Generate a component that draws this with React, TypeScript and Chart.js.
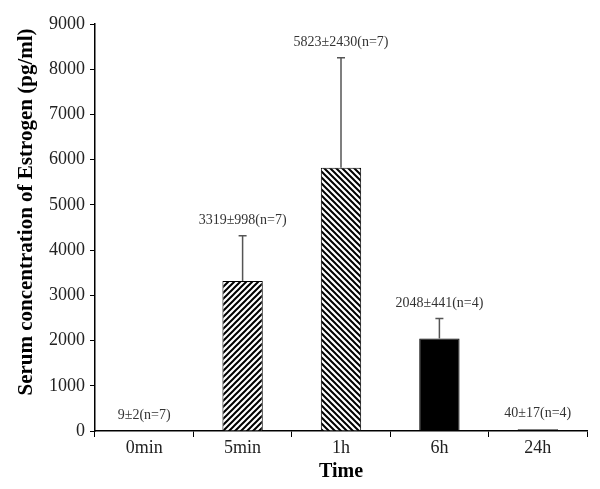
import React, { useEffect, useRef } from "react";
import { Chart, registerables } from "chart.js";
Chart.register(...registerables);

const categories = ["0min", "5min", "1h", "6h", "24h"];
const means = [9, 3319, 5823, 2048, 40];
const sds = [2, 998, 2430, 441, 17];
const ns = [7, 7, 7, 4, 4];
const fillKinds = ["solid", "slash", "backslash", "solid", "solid"];
const yMin = 0;
const yMax = 9000;
const yStep = 1000;
const yTitle = "Serum concentration of Estrogen (pg/ml)";
const xTitle = "Time";

const FONT = '"Liberation Serif", "Times New Roman", serif';

function makeHatch(dir: string): CanvasPattern | string {
  const s = 6;
  const c = document.createElement("canvas");
  c.width = s;
  c.height = s;
  const ctx = c.getContext("2d");
  if (!ctx) return "#fff";
  ctx.fillStyle = "#fff";
  ctx.fillRect(0, 0, s, s);
  ctx.strokeStyle = "#000";
  ctx.lineWidth = 2;
  ctx.beginPath();
  if (dir === "slash") {
    ctx.moveTo(-1, s + 1); ctx.lineTo(s + 1, -1);
    ctx.moveTo(-1, 1); ctx.lineTo(1, -1);
    ctx.moveTo(s - 1, s + 1); ctx.lineTo(s + 1, s - 1);
  } else {
    ctx.moveTo(-1, -1); ctx.lineTo(s + 1, s + 1);
    ctx.moveTo(s - 1, -1); ctx.lineTo(s + 1, 1);
    ctx.moveTo(-1, s - 1); ctx.lineTo(1, s + 1);
  }
  ctx.stroke();
  const p = ctx.createPattern(c, "repeat");
  return p || "#fff";
}

const errorBarPlugin = {
  id: "errorBars",
  afterDatasetsDraw(chart: any) {
    const ctx = chart.ctx;
    const meta = chart.getDatasetMeta(0);
    const y = chart.scales.y;
    ctx.save();
    meta.data.forEach((bar: any, i: number) => {
      const top = y.getPixelForValue(means[i]);
      const hi = y.getPixelForValue(means[i] + sds[i]);
      if (top - hi > 3) {
        ctx.strokeStyle = "#555";
        ctx.lineWidth = 1.5;
        ctx.beginPath();
        ctx.moveTo(bar.x, top);
        ctx.lineTo(bar.x, hi);
        ctx.moveTo(bar.x - 4, hi);
        ctx.lineTo(bar.x + 4, hi);
        ctx.stroke();
      }
      ctx.fillStyle = "#333";
      ctx.font = `14px ${FONT}`;
      ctx.textAlign = "center";
      ctx.textBaseline = "middle";
      ctx.fillText(`${means[i]}±${sds[i]}(n=${ns[i]})`, bar.x, hi - 15);
    });
    // rotated y-axis title
    ctx.fillStyle = "#000";
    ctx.font = `bold 21px ${FONT}`;
    ctx.translate(27, 212);
    ctx.rotate(-Math.PI / 2);
    ctx.textAlign = "center";
    ctx.textBaseline = "middle";
    ctx.fillText(yTitle, 0, 0);
    ctx.restore();
  },
};

export default function App() {
  const ref = useRef<HTMLCanvasElement>(null);
  useEffect(() => {
    if (!ref.current) return;
    const bg = fillKinds.map((k) => (k === "solid" ? "#000" : makeHatch(k)));
    const chart = new Chart(ref.current, {
      type: "bar",
      data: {
        labels: categories,
        datasets: [
          {
            data: means,
            backgroundColor: bg as any,
            borderColor: "#000",
            borderWidth: 1,
            barPercentage: 0.41,
            categoryPercentage: 1,
          },
        ],
      },
      options: {
        animation: false,
        responsive: true,
        maintainAspectRatio: false,
        layout: { padding: { top: 24, right: 13, left: 0, bottom: 0 } },
        plugins: { legend: { display: false }, tooltip: { enabled: false } },
        scales: {
          x: {
            grid: {
              display: true,
              drawOnChartArea: false,
              drawTicks: true,
              tickLength: 6,
              color: "#000",
              offset: true,
            },
            border: { display: true, color: "#000", width: 1.5 },
            ticks: { font: { family: FONT, size: 18 }, color: "#222", padding: 0 },
            title: {
              display: true,
              text: xTitle,
              font: { family: FONT, size: 20, weight: "bold" },
              color: "#000",
              padding: { top: 0, bottom: 5 },
            },
            afterFit: (s: any) => {
              s.height = 58;
            },
          },
          y: {
            min: yMin,
            max: yMax,
            ticks: {
              stepSize: yStep,
              font: { family: FONT, size: 18 },
              color: "#222",
              padding: 5,
              callback: (v: any) => String(v),
            },
            grid: {
              display: true,
              drawOnChartArea: false,
              drawTicks: true,
              tickLength: 5,
              color: "#000",
            },
            border: { display: true, color: "#000", width: 1.5 },
            title: { display: false },
            afterFit: (s: any) => {
              s.width = 95;
            },
          },
        },
      },
      plugins: [errorBarPlugin],
    });
    return () => chart.destroy();
  }, []);
  return (
    <div style={{ position: "absolute", left: 0, top: 0, width: 600, height: 489, background: "#fff" }}>
      <canvas ref={ref} />
    </div>
  );
}
